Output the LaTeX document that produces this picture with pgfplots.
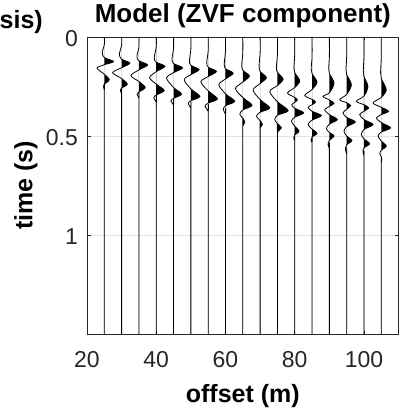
\documentclass[border=0pt]{standalone}
\usepackage{pgfplots}
\pgfplotsset{compat=1.18}
\usepackage{pgfplotstable}
\usepackage{fontspec}
\setmainfont{Liberation Sans}
\definecolor{axgray}{HTML}{262626}
\definecolor{gridgray}{HTML}{E3E3E3}

\pgfplotstableread{
t a
0 0
0.04 0
0.078 -0.6
0.104 0
0.124 2.68
0.14 0
0.157 -2.11
0.188 0
0.216 1.44
0.238 0
0.25 -0.25
0.27 0
0.32 0
1.5 0
}\trA
\pgfplotstableread{
t a
0 0
0.04 0
0.088 -0.66
0.112 0
0.132 2.39
0.155 0
0.18 -2.6
0.21 0
0.238 1.64
0.258 0
0.268 -0.4
0.29 0
0.34 0
1.5 0
}\trB
\pgfplotstableread{
t a
0 0
0.05 0
0.098 -0.58
0.12 0
0.141 2.51
0.166 0
0.195 -2.31
0.225 0
0.255 1.82
0.278 0
0.29 -0.55
0.31 0
0.36 0
1.5 0
}\trC
\pgfplotstableread{
t a
0 0
0.05 0
0.104 -0.58
0.127 0
0.148 2.51
0.175 0
0.205 -1.93
0.238 0
0.27 2.31
0.293 0
0.307 -0.72
0.33 0
0.38 0
1.5 0
}\trD
\pgfplotstableread{
t a
0 0
0.06 0
0.11 -0.45
0.134 0
0.156 2.6
0.18 0
0.207 -2.02
0.255 0
0.288 2.31
0.31 0
0.323 -0.78
0.345 0
0.39 0
1.5 0
}\trE
\pgfplotstableread{
t a
0 0
0.06 0
0.12 -0.4
0.143 0
0.165 2.39
0.19 0
0.216 -1.93
0.262 0
0.3 2.6
0.322 0
0.336 -0.78
0.36 0
0.41 0
1.5 0
}\trF
\pgfplotstableread{
t a
0 0
0.07 0
0.128 -0.4
0.152 0
0.174 2.39
0.2 0
0.226 -2.11
0.272 0
0.312 2.68
0.334 0
0.35 -0.95
0.375 0
0.42 0
1.5 0
}\trG
\pgfplotstableread{
t a
0 0
0.07 0
0.135 -0.35
0.16 0
0.183 2.22
0.212 0
0.241 -1.93
0.287 0
0.325 2.68
0.347 0
0.367 -0.66
0.39 0
0.44 0
1.5 0
}\trH
\pgfplotstableread{
t a
0 0
0.08 0
0.14 -0.3
0.168 0
0.197 1.93
0.228 0
0.26 -2.11
0.306 0
0.345 2.68
0.368 0
0.39 -0.87
0.41 0
0.43 0.58
0.45 0
0.48 0
1.5 0
}\trI
\pgfplotstableread{
t a
0 0
0.08 0
0.145 -0.3
0.174 0
0.205 1.82
0.235 0
0.268 -2.02
0.316 0
0.358 2.8
0.38 0
0.4 -1.07
0.422 0
0.442 0.66
0.46 0
0.49 0
1.5 0
}\trJ
\pgfplotstableread{
t a
0 0
0.09 0
0.15 -0.3
0.178 0
0.213 1.64
0.245 0
0.275 -2.22
0.327 0
0.372 3.09
0.395 0
0.417 -0.78
0.437 0
0.459 1.15
0.48 0
0.51 0
1.5 0
}\trK
\pgfplotstableread{
t a
0 0
0.09 0
0.155 -0.25
0.18 0
0.222 1.44
0.255 0
0.283 -2.11
0.305 0
0.318 0.78
0.33 0
0.342 -0.87
0.36 0
0.383 2.6
0.405 0
0.425 -0.95
0.45 0
0.476 1.24
0.495 0
0.51 -0.29
0.525 0
0.56 0
1.5 0
}\trL
\pgfplotstableread{
t a
0 0
0.1 0
0.16 -0.25
0.185 0
0.228 1.44
0.265 0
0.295 -2.11
0.315 0
0.328 1.01
0.342 0
0.355 -1.15
0.375 0
0.397 2.68
0.42 0
0.442 -1.15
0.465 0
0.487 1.44
0.505 0
0.52 -0.29
0.535 0
0.57 0
1.5 0
}\trM
\pgfplotstableread{
t a
0 0
0.1 0
0.16 -0.2
0.185 0
0.233 1.36
0.282 0
0.3 -1.82
0.318 0
0.335 1.36
0.351 0
0.367 -1.36
0.392 0
0.417 2.31
0.44 0
0.463 -0.87
0.482 0
0.5 1.36
0.522 0
0.543 -0.38
0.565 0
0.6 0
1.5 0
}\trN
\pgfplotstableread{
t a
0 0
0.1 0
0.165 -0.2
0.19 0
0.241 1.36
0.29 0
0.317 -2.02
0.332 0
0.347 1.15
0.365 0
0.383 -1.07
0.406 0
0.429 2.51
0.453 0
0.476 -0.78
0.5 0
0.523 1.53
0.545 0
0.568 -0.38
0.59 0
0.62 0
1.5 0
}\trO
\pgfplotstableread{
t a
0 0
0.1 0
0.17 -0.2
0.2 0
0.25 1.15
0.298 0
0.325 -2.22
0.342 0
0.358 1.36
0.375 0
0.392 -1.24
0.417 0
0.442 2.6
0.467 0
0.492 -0.78
0.515 0
0.539 1.64
0.56 0
0.58 -0.29
0.6 0
0.64 0
1.5 0
}\trP
\pgfplotstableread{
t a
0 0
0.1 0
0.18 -0.2
0.21 0
0.266 1.44
0.305 0
0.333 -2.39
0.355 0
0.375 2.11
0.392 0
0.409 -1.44
0.432 0
0.459 2.68
0.48 0
0.5 -0.95
0.525 0
0.551 1.44
0.572 0
0.59 -0.43
0.605 0
0.62 0.15
0.635 0
0.67 0
1.5 0
}\trQ

\newcommand{\trace}[2]{%
  \begin{scope}
    \clip (axis cs:#2,0) rectangle (axis cs:110,1.5);
    \addplot[fill=black, draw=none, smooth, tension=0.5] table[x expr={#2+\thisrow{a}}, y=t] {#1};
  \end{scope}
  \addplot[black, line width=0.8pt, smooth, tension=0.5] table[x expr={#2+\thisrow{a}}, y=t] {#1};
}

\begin{document}
\begin{tikzpicture}
\begin{axis}[
  scale only axis, width=311.6pt, height=297pt,
  xmin=20, xmax=110, ymin=0, ymax=1.5, y dir=reverse,
  xtick={20,40,60,80,100}, ytick={0,0.5,1},
  grid=major, major grid style={gridgray, line width=0.5pt},
  axis line style={axgray, line width=0.6pt},
  tick style={axgray, line width=0.6pt}, tick align=inside, major tick length=3.5pt,
  /pgf/number format/assume math mode=true,
  ticklabel style={font=\fontsize{23}{25}\selectfont, text=axgray},
  xticklabel style={anchor=base, inner sep=0pt, yshift=-33pt},
  yticklabel style={anchor=east, inner sep=0pt, xshift=-9pt, yshift=-2pt},
  title={Model (ZVF component)},
  title style={font=\fontsize{26}{29}\selectfont\bfseries, at={(0.5,1)}, anchor=base, inner sep=0pt, yshift=8pt},
  xlabel={offset (m)},
  xlabel style={font=\fontsize{25}{28}\selectfont\bfseries, at={(axis description cs:0.5,0)}, anchor=center, yshift=-62pt},
  ylabel={time (s)},
  ylabel style={font=\fontsize{25}{28}\selectfont\bfseries, at={(axis description cs:-0.196,0.5)}, anchor=center},
  clip=true,
]
\trace{\trA}{25}
\trace{\trB}{30}
\trace{\trC}{35}
\trace{\trD}{40}
\trace{\trE}{45}
\trace{\trF}{50}
\trace{\trG}{55}
\trace{\trH}{60}
\trace{\trI}{65}
\trace{\trJ}{70}
\trace{\trK}{75}
\trace{\trL}{80}
\trace{\trM}{85}
\trace{\trN}{90}
\trace{\trO}{95}
\trace{\trP}{100}
\trace{\trQ}{105}
\coordinate (TL) at (axis description cs:0,1);
\coordinate (BR) at (axis description cs:1,0);
\end{axis}
\node[anchor=base east, inner sep=0pt, font=\fontsize{25}{28}\selectfont\bfseries] at ([xshift=-44pt, yshift=8pt]TL) {sis)};
\pgfresetboundingbox
\path[use as bounding box] ([xshift=-87pt,yshift=37pt]TL) rectangle ([yshift=-77pt]BR);
\end{tikzpicture}
\end{document}
